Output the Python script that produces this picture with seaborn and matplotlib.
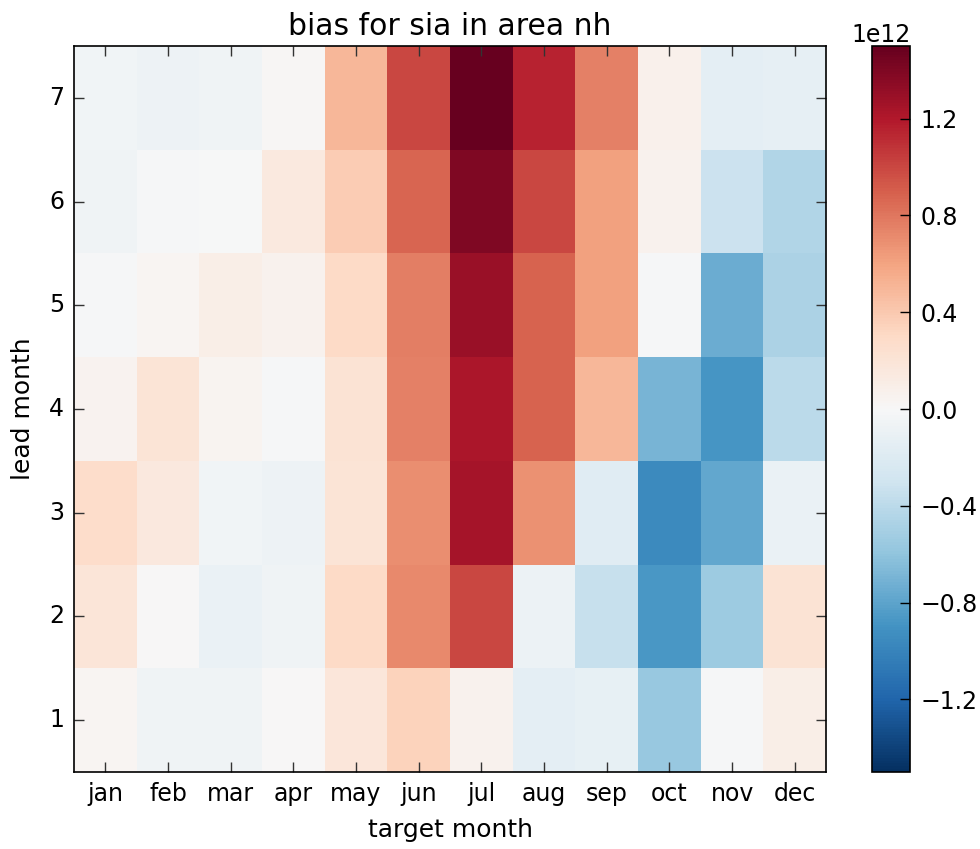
import numpy as np
import pandas as pd
import matplotlib
matplotlib.use('Agg')
import matplotlib.pyplot as plt
import seaborn as sns

# target months and lead months
months = ['jan', 'feb', 'mar', 'apr', 'may', 'jun', 'jul', 'aug', 'sep', 'oct', 'nov', 'dec']
leads = [7, 6, 5, 4, 3, 2, 1]

# bias values (units of 1e12), one list per lead month
lead7 = [-0.05, -0.08, -0.06, 0.02, 0.50, 1.00, 1.50, 1.15, 0.75, 0.08, -0.15, -0.13]
lead6 = [-0.06, -0.02, -0.01, 0.15, 0.38, 0.87, 1.40, 1.00, 0.62, 0.07, -0.32, -0.45]
lead5 = [-0.02, 0.03, 0.10, 0.06, 0.30, 0.77, 1.30, 0.88, 0.62, -0.02, -0.75, -0.48]
lead4 = [0.05, 0.20, 0.04, -0.02, 0.22, 0.75, 1.22, 0.88, 0.50, -0.70, -0.88, -0.40]
lead3 = [0.28, 0.16, -0.05, -0.08, 0.20, 0.70, 1.25, 0.68, -0.18, -0.95, -0.78, -0.10]
lead2 = [0.19, 0.00, -0.10, -0.06, 0.30, 0.72, 1.00, -0.09, -0.35, -0.87, -0.55, 0.22]
lead1 = [0.03, -0.06, -0.06, 0.01, 0.18, 0.35, 0.06, -0.15, -0.12, -0.57, -0.02, 0.10]

df = pd.DataFrame([lead7, lead6, lead5, lead4, lead3, lead2, lead1],
                  index=leads, columns=months) * 1e12

fig = plt.figure(figsize=(9.8, 8.49), dpi=100, facecolor='white')
ax = fig.add_axes([0.0755, 0.0907, 0.7675, 0.855])
cax = fig.add_axes([0.89, 0.0907, 0.039, 0.855])

sns.heatmap(df, cmap='RdBu_r', vmin=-1.5e12, vmax=1.5e12, ax=ax, cbar_ax=cax,
            linewidths=0)

# classic look: full frame, inward ticks on all sides
for sp in ax.spines.values():
    sp.set_visible(True)
    sp.set_color('black')
    sp.set_linewidth(1.2)
ax.tick_params(direction='in', length=7, width=1.0, top=True, right=True,
               labelsize=17, color='#333333', pad=7)
ax.set_yticklabels(leads, rotation=0)
ax.set_xticklabels(months, rotation=0)
ax.set_xlabel('target month', fontsize=18, labelpad=9)
ax.set_ylabel('lead month', fontsize=18, labelpad=10)
ax.set_title('bias for sia in area nh', fontsize=21.5, pad=8)

cbar = ax.collections[0].colorbar
cbar.set_ticks(np.arange(-1.2e12, 1.3e12, 0.4e12))
cbar.ax.tick_params(direction='in', length=7, width=1.0, labelsize=17, pad=7)
cbar.ax.yaxis.get_offset_text().set_fontsize(17)
cbar.outline.set_visible(True)
cbar.outline.set_edgecolor('black')
cbar.outline.set_linewidth(1.2)

fig.savefig('out.png', dpi=100, facecolor='white')
